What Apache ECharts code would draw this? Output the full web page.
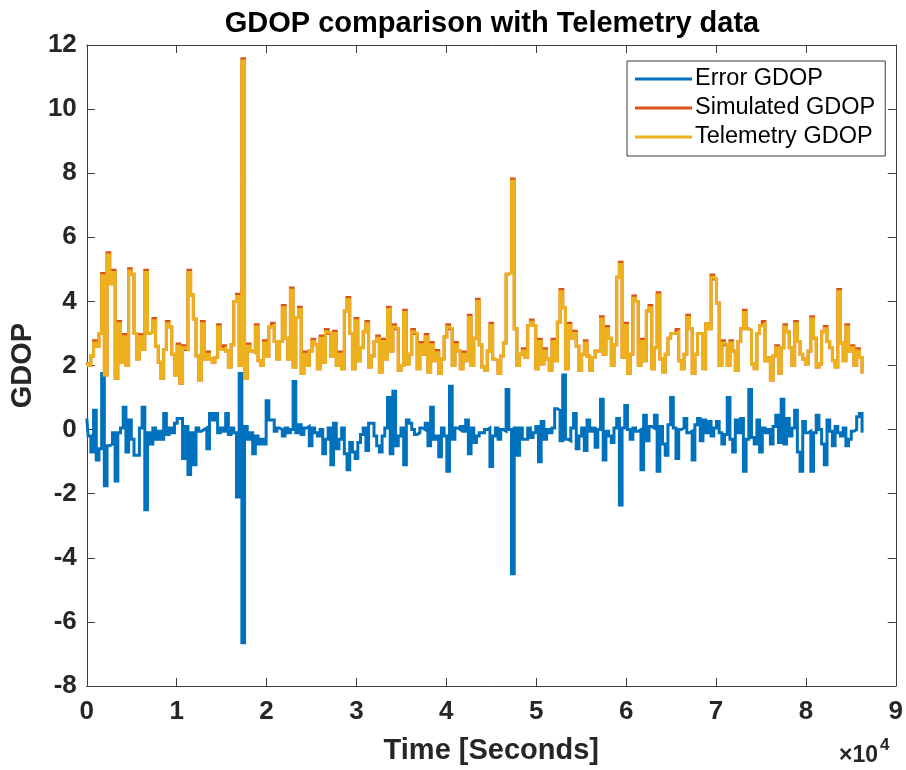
<!DOCTYPE html>
<html>
<head>
<meta charset="utf-8">
<script src="https://cdn.jsdelivr.net/npm/echarts@6/dist/echarts.min.js"></script>
<style>
  html, body { margin: 0; padding: 0; background: #fff; }
  #chart { width: 906px; height: 770px; }
</style>
</head>
<body>
<div id="chart"></div>
<script>
// ---- Data (one sample every 300 s, 0 .. 86400 s) ----
const sampleIntervalSeconds = 300;

const telemetryGDOP = [
  2.1, 2.0, 2.3, 2.7, 2.6, 3.0, 4.8, 1.7, 5.45, 4.55,
  4.9, 1.6, 3.3, 2.1, 2.9, 2.0, 4.95, 4.85, 3.0, 2.2,
  2.9, 2.5, 4.9, 3.0, 3.05, 3.4, 2.6, 2.1, 1.6, 2.5,
  3.3, 3.2, 2.35, 1.7, 2.6, 1.45, 2.55, 2.5, 4.9, 4.2,
  3.45, 2.3, 1.55, 3.3, 2.2, 2.35, 2.2, 2.1, 2.25, 3.2,
  2.5, 2.55, 2.45, 1.95, 2.65, 4.0, 4.15, 2.0, 11.5, 1.6,
  2.6, 2.45, 2.4, 3.2, 2.15, 2.0, 2.7, 2.3, 3.2, 3.25,
  2.75, 2.2, 2.75,
  3.8, 2.85, 2.2, 4.35, 1.95, 3.5, 3.75,
  1.75, 2.35, 2.0, 2.45, 2.75, 2.65, 1.9, 2.85, 2.1, 3.05,
  3.0, 2.3, 3.0, 2.0, 2.35, 1.9, 3.7, 4.05, 3.0, 1.9,
  3.4, 2.15, 2.55, 3.05, 3.3, 1.95, 2.3, 2.75, 2.85, 1.8,
  2.75, 2.2, 3.75, 2.45, 3.2, 3.15, 1.85, 2.0, 3.65, 2.05,
  2.35, 3.05, 3.0, 1.9, 2.65, 2.35, 2.9, 1.8, 2.65, 2.15,
  2.4, 1.75, 2.2, 2.9, 3.2, 3.15, 2.0, 2.65, 2.45, 1.9,
  2.35, 2.15, 3.5, 2.0, 2.85, 4.0,
  2.65, 1.95, 1.85, 2.45,
  3.25, 2.2, 2.15, 1.75, 2.3, 2.7, 4.85, 4.9, 7.75, 3.15,
  2.0, 2.35, 2.45, 2.25, 3.25, 3.35, 3.25, 1.9, 2.75, 2.05,
  2.45, 2.2, 1.85, 2.75, 2.15, 3.35, 4.3, 3.8, 1.9, 3.25,
  2.85, 3.0, 2.6, 1.85, 2.35, 2.7, 2.3, 1.85, 2.25, 2.45,
  2.45, 3.45, 2.35, 3.15, 2.85, 2.0, 2.65, 4.75, 5.15, 2.25,
  3.25, 1.75, 2.35, 4.1, 4.0, 2.0, 2.75, 2.15, 3.7, 3.8,
  1.9, 2.55, 4.2, 2.2, 1.8, 2.35, 2.85, 3.0,
  3.0, 3.05,
  2.15, 1.9, 2.35, 3.5, 3.15, 1.75, 2.35, 3.0, 3.0, 1.9,
  3.3, 3.15, 4.75, 4.7, 3.95, 2.0, 2.7, 2.65, 2.0, 2.7,
  2.45, 1.85, 2.75, 3.15, 3.65, 3.15, 3.1, 2.05, 1.9, 3.0,
  3.25, 3.3, 2.15, 2.25, 1.55, 2.3, 2.55, 1.75, 2.55, 3.2,
  3.05, 2.55, 2.0, 3.3, 2.75, 2.35, 2.2, 2.05, 2.45, 3.45,
  2.85, 1.95, 2.05, 3.05, 3.15, 2.75, 2.55, 2.15, 1.95, 4.3,
  2.7, 2.15, 3.2, 2.45, 2.55, 2.0, 2.45, 2.25, 1.8
];

const simulatedGDOP = [
  2.1, 2.0, 2.3, 2.77, 2.6, 3.0, 4.87, 1.7, 5.52, 4.55,
  4.97, 1.6, 3.37, 2.1, 2.97, 2.0, 5.02, 4.85, 3.0, 2.2,
  2.97, 2.5, 4.97, 3.0, 3.05, 3.47, 2.6, 2.1, 1.6, 2.5,
  3.37, 3.2, 2.35, 1.7, 2.67, 1.45, 2.62, 2.5, 4.97, 4.2,
  3.45, 2.3, 1.55, 3.37, 2.2, 2.42, 2.2, 2.1, 2.25, 3.27,
  2.5, 2.62, 2.45, 1.95, 2.65, 4.0, 4.22, 2.0, 11.57, 1.6,
  2.67, 2.45, 2.4, 3.27, 2.15, 2.0, 2.77, 2.3, 3.2, 3.32,
  2.75, 2.2, 2.75,
  3.87, 2.85, 2.2, 4.42, 1.95, 3.5, 3.82,
  1.75, 2.42, 2.0, 2.45, 2.82, 2.65, 1.9, 2.92, 2.1, 3.12,
  3.0, 2.3, 3.07, 2.0, 2.42, 1.9, 3.7, 4.12, 3.0, 1.9,
  3.47, 2.15, 2.55, 3.05, 3.37, 1.95, 2.3, 2.75, 2.92, 1.8,
  2.82, 2.2, 3.82, 2.45, 3.27, 3.15, 1.85, 2.0, 3.72, 2.05,
  2.35, 3.12, 3.0, 1.9, 2.72, 2.35, 2.97, 1.8, 2.72, 2.15,
  2.47, 1.75, 2.2, 2.9, 3.27, 3.15, 2.0, 2.72, 2.45, 1.9,
  2.42, 2.15, 3.57, 2.0, 2.85, 4.07,
  2.65, 1.95, 1.85, 2.45,
  3.32, 2.2, 2.15, 1.75, 2.3, 2.7, 4.85, 4.9, 7.82, 3.15,
  2.0, 2.35, 2.52, 2.25, 3.25, 3.42, 3.25, 1.9, 2.82, 2.05,
  2.52, 2.2, 1.85, 2.82, 2.15, 3.35, 4.37, 3.8, 1.9, 3.32,
  2.85, 3.07, 2.6, 1.85, 2.35, 2.77, 2.3, 1.85, 2.25, 2.45,
  2.45, 3.52, 2.35, 3.22, 2.85, 2.0, 2.65, 4.75, 5.22, 2.25,
  3.32, 1.75, 2.35, 4.17, 4.0, 2.0, 2.82, 2.15, 3.7, 3.87,
  1.9, 2.55, 4.27, 2.2, 1.8, 2.35, 2.85, 3.0,
  3.0, 3.12,
  2.15, 1.9, 2.35, 3.57, 3.15, 1.75, 2.35, 3.0, 3.0, 1.9,
  3.3, 3.15, 4.82, 4.7, 3.95, 2.0, 2.77, 2.65, 2.0, 2.77,
  2.45, 1.85, 2.75, 3.15, 3.72, 3.15, 3.1, 2.05, 1.9, 3.0,
  3.25, 3.37, 2.15, 2.25, 1.55, 2.3, 2.62, 1.75, 2.55, 3.27,
  3.05, 2.55, 2.0, 3.37, 2.75, 2.35, 2.2, 2.05, 2.45, 3.52,
  2.85, 1.95, 2.05, 3.05, 3.22, 2.75, 2.55, 2.15, 1.95, 4.37,
  2.7, 2.15, 3.27, 2.45, 2.62, 2.0, 2.52, 2.25, 1.8
];

const errorGDOP = [
  0.35, -0.2, -0.7, 0.6, -0.95, -0.6, 1.75, -1.75, -0.5, -0.45,
  -0.1, -1.6, -0.1, 0.05, 0.7, -0.7, 0.3, -0.3, -0.8, -0.8,
  0.05, 0.7, -2.5, -0.1, -0.45, 0.05, -0.3, -0.05, -0.3, 0.5,
  -0.15, 0.05, -0.1, 0.2, 0.35, 0.35, -0.9, 0.1, -1.4, -0.1,
  -1.1, 0.05, -0.05, 0.0, 0.05, -0.6, 0.5, 0.3, 0.5, -0.1,
  0.05, -0.05, 0.5, -0.15, 0.05, -0.1, -2.1, 1.75, -6.65, 0.1,
  -0.3, -0.1, -0.75, -0.2, -0.45, -0.3, -0.45, 0.9, 0.3, 0.3,
  -0.05, 0.05, 0.0,
  -0.2, 0.05, -0.1, 0.0, 1.5, -0.1, 0.15,
  -0.15, 0.05, 0.1, -0.5, 0.05, -0.1, -0.2, 0.0, -0.75, -0.3,
  0.05, -1.1, 0.2, -0.6, -0.3, 0.05, -0.75, -1.25, -0.4, -0.7,
  -0.9, -0.4, -0.15, 0.05, -0.65, 0.2, 0.2, -0.2, -0.5, -0.7,
  -0.2, 0.05, 1.0, -0.75, 1.2, -0.5, -0.2, 0.05, -1.1, 0.3,
  0.2, 0.0, -0.15, -0.1, 0.05, 0.0, 0.2, -0.5, 0.7, -0.3,
  -0.2, -0.85, 0.05, -0.2, -1.3, 1.35, -0.3, 0.05, 0.0, 0.1,
  -0.05, 0.3, -0.75, 0.05, -0.4, -0.2,
  -0.1, -0.1, 0.0, 0.05,
  -1.15, -0.2, 0.05, -0.3, 0.0, -0.05, 1.25, 0.0, -4.5, 0.05,
  -0.8, 0.05, -0.3, -0.3, 0.05, -0.25, -0.1, 0.1, -1.0, 0.25,
  -0.3, 0.0, -0.1, 0.05, 0.65, 0.6, -0.35, 1.7, -0.3, -0.35,
  0.05, 0.5, -0.6, -0.2, 0.05, -0.65, 0.3, -0.05, 0.05, -0.55,
  0.0, 0.95, -0.95, -0.05, -0.2, -0.4, 0.05, 0.35, -2.35, 0.05,
  0.75, 0.0, -0.3, 0.05, -0.05, 0.0, -1.25, 0.45, -0.35, 0.1,
  0.05, 0.45, -1.3, 0.1, -0.45, -0.8, 0.15, 1.0,
  0.05, -0.9,
  0.0, 0.05, 0.35, -0.1, -0.05, -0.95, 0.15, 0.35, -0.35, 0.3,
  -0.1, 0.25, -0.2, 0.05, 0.25, -0.1, -0.45, -0.15, 1.0, -0.3,
  -0.7, 0.3, -0.1, 0.35, -1.3, -0.3, 1.25, -0.25, -0.45, 0.3,
  -0.7, 0.05, -0.1, 0.0, -0.45, 0.1, 0.45, -0.4, 0.95, -0.45,
  0.35, -0.2, 0.05, 0.6, -0.7, -1.3, 0.25, -0.1, -0.05, -1.3,
  -0.1, 0.45, 0.0, -0.45, -1.1, 0.3, -0.05, -0.5, 0.1, -0.1,
  -0.2, 0.05, -0.5, -0.3, -0.05, 0.0, 0.4, 0.5, -0.05
];

const seriesNames = ['Error GDOP', 'Simulated GDOP', 'Telemetry GDOP'];
const seriesColors = ['#0072BD', '#D95319', '#EDB120'];

const xTickValues = [0, 10000, 20000, 30000, 40000, 50000, 60000, 70000, 80000, 90000];
const xTickLabels = ['0', '1', '2', '3', '4', '5', '6', '7', '8', '9'];
const yTickLabels = ['-8', '-6', '-4', '-2', '0', '2', '4', '6', '8', '10', '12'];

const titleText = 'GDOP comparison with Telemetry data';
const xAxisName = 'Time [Seconds]';
const yAxisName = 'GDOP';

// ---- Build ----
const sampleTimes = telemetryGDOP.map((_, i) => i * sampleIntervalSeconds);
const pairs = arr => arr.map((v, i) => [sampleTimes[i], v]);

const FONT = '"Liberation Sans", Arial, Helvetica, sans-serif';
const AXIS_COLOR = '#3d3d3d';
const TEXT_COLOR = '#262626';
const LINE_W = 3;

const chart = echarts.init(document.getElementById('chart'), null, { renderer: 'canvas' });

const xFmt = v => {
  const idx = xTickValues.indexOf(v);
  return idx >= 0 ? xTickLabels[idx] : '';
};

const lineSeries = (k, values, z) => ({
  name: seriesNames[k], type: 'line', xAxisIndex: 0, yAxisIndex: 0,
  data: pairs(values), showSymbol: false, symbol: 'none', step: 'middle',
  lineStyle: { color: seriesColors[k], width: LINE_W, join: 'miter' },
  itemStyle: { color: seriesColors[k] },
  silent: true, z: z
});

const option = {
  animation: false,
  backgroundColor: '#ffffff',
  textStyle: { fontFamily: FONT },
  grid: { left: 85, right: 6, top: 45, bottom: 81, containLabel: false },
  legend: {
    data: seriesNames,
    orient: 'vertical',
    left: 627,
    top: 61,
    padding: [6, 10, 7, 8],
    itemGap: 5,
    itemWidth: 57,
    itemHeight: 3,
    icon: 'rect',
    backgroundColor: '#ffffff',
    borderColor: '#3a3a3a',
    borderWidth: 1,
    textStyle: { fontFamily: FONT, fontSize: 23.5, color: '#000', padding: [0, 0, 0, -2] },
    selectedMode: false
  },
  xAxis: [
    {
      type: 'value', min: 0, max: 90000, interval: 10000,
      position: 'bottom',
      name: xAxisName, nameLocation: 'middle', nameGap: 50,
      nameTextStyle: { fontFamily: FONT, fontSize: 29, fontWeight: 'bold', color: TEXT_COLOR },
      axisLine: { show: true, onZero: false, lineStyle: { color: AXIS_COLOR, width: 1 } },
      axisTick: { show: true, inside: true, length: 8, lineStyle: { color: AXIS_COLOR } },
      axisLabel: { formatter: xFmt, margin: 13, fontFamily: FONT, fontSize: 26, fontWeight: 'bold', color: TEXT_COLOR },
      splitLine: { show: false }
    },
    {
      type: 'value', min: 0, max: 90000, interval: 10000,
      position: 'top',
      axisLine: { show: true, onZero: false, lineStyle: { color: AXIS_COLOR, width: 1 } },
      axisTick: { show: true, inside: true, length: 8, lineStyle: { color: AXIS_COLOR } },
      axisLabel: { show: false },
      splitLine: { show: false }
    }
  ],
  yAxis: [
    {
      type: 'value', min: -8, max: 12, interval: 2,
      position: 'left',
      name: yAxisName, nameLocation: 'middle', nameGap: 47, nameRotate: 90,
      nameTextStyle: { fontFamily: FONT, fontSize: 29, fontWeight: 'bold', color: TEXT_COLOR },
      axisLine: { show: true, onZero: false, lineStyle: { color: AXIS_COLOR, width: 1 } },
      axisTick: { show: true, inside: true, length: 8, lineStyle: { color: AXIS_COLOR } },
      axisLabel: {
        margin: 10, fontFamily: FONT, fontSize: 26, fontWeight: 'bold', color: TEXT_COLOR,
        formatter: v => { const s = String(v); return yTickLabels.indexOf(s) >= 0 ? s : ''; }
      },
      splitLine: { show: false }
    },
    {
      type: 'value', min: -8, max: 12, interval: 2,
      position: 'right',
      axisLine: { show: true, onZero: false, lineStyle: { color: AXIS_COLOR, width: 1 } },
      axisTick: { show: true, inside: true, length: 8, lineStyle: { color: AXIS_COLOR } },
      axisLabel: { show: false },
      splitLine: { show: false }
    }
  ],
  series: [
    lineSeries(0, errorGDOP, 2),
    lineSeries(1, simulatedGDOP, 3),
    lineSeries(2, telemetryGDOP, 4)
  ],
  graphic: [
    {
      type: 'text', x: 492, y: 24, z: 10,
      style: {
        text: titleText, fill: '#000',
        font: 'bold 29px ' + FONT,
        textAlign: 'center', textVerticalAlign: 'middle',
        align: 'center', verticalAlign: 'middle'
      }
    },
    {
      type: 'text', x: 878, y: 756, z: 10,
      style: {
        text: '×10', fill: TEXT_COLOR,
        font: 'bold 23px ' + FONT,
        textAlign: 'right', textVerticalAlign: 'middle',
        align: 'right', verticalAlign: 'middle'
      }
    },
    {
      type: 'text', x: 880, y: 745, z: 10,
      style: {
        text: '4', fill: TEXT_COLOR,
        font: 'bold 17px ' + FONT,
        textAlign: 'left', textVerticalAlign: 'middle',
        align: 'left', verticalAlign: 'middle'
      }
    }
  ]
};

chart.setOption(option);
</script>
</body>
</html>
